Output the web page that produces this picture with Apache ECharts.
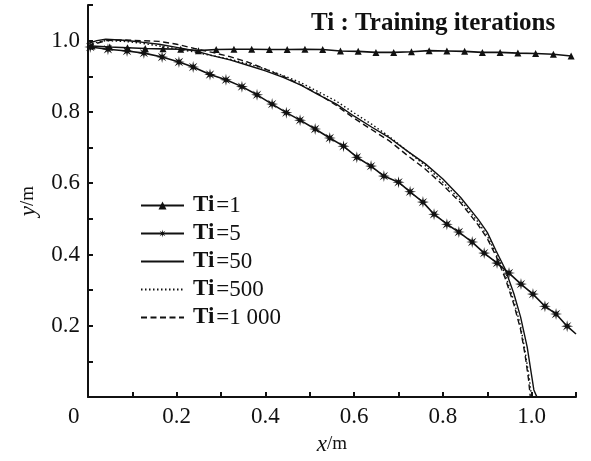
<!DOCTYPE html>
<html>
<head>
<meta charset="utf-8">
<script src="https://cdn.jsdelivr.net/npm/echarts@6/dist/echarts.min.js"></script>
<style>
  html, body { margin: 0; padding: 0; background: #fff; }
  #ec1 { width: 591px; height: 461px; }
</style>
</head>
<body>
<div id="ec1"></div>
<script>
// Ti = 1 (triangles)
var ti1X = [0.009, 0.049, 0.089, 0.129, 0.169, 0.209, 0.249, 0.289, 0.329, 0.369, 0.409, 0.449, 0.489, 0.529,
            0.569, 0.609, 0.649, 0.689, 0.729, 0.769, 0.809, 0.849, 0.889, 0.929, 0.969, 1.009, 1.049, 1.089];
var ti1Y = [0.985, 0.982, 0.980, 0.978, 0.977, 0.976, 0.972, 0.975, 0.976, 0.976, 0.975, 0.975, 0.976, 0.975,
            0.971, 0.970, 0.967, 0.967, 0.969, 0.972, 0.971, 0.970, 0.967, 0.967, 0.965, 0.964, 0.962, 0.957];
// Ti = 5 (stars), last point is the line end without marker
var ti5X = [0.005, 0.045, 0.088, 0.126, 0.167, 0.205, 0.237, 0.275, 0.311, 0.347, 0.381, 0.415, 0.447, 0.478,
            0.512, 0.545, 0.576, 0.606, 0.638, 0.667, 0.700, 0.726, 0.755, 0.780, 0.809, 0.836, 0.866, 0.893,
            0.922, 0.949, 0.976, 1.003, 1.030, 1.055, 1.080, 1.100];
var ti5Y = [0.982, 0.976, 0.971, 0.965, 0.954, 0.940, 0.926, 0.905, 0.890, 0.871, 0.848, 0.822, 0.798, 0.777,
            0.752, 0.727, 0.704, 0.673, 0.648, 0.620, 0.603, 0.576, 0.547, 0.513, 0.485, 0.463, 0.435, 0.404,
            0.376, 0.348, 0.317, 0.289, 0.255, 0.233, 0.199, 0.177];
// Ti = 50 (solid)
var ti50X = [0, 0.02, 0.04, 0.08, 0.12, 0.16, 0.2, 0.24, 0.28, 0.32, 0.36, 0.4, 0.44, 0.48, 0.52, 0.56, 0.6,
             0.64, 0.68, 0.72, 0.76, 0.8, 0.84, 0.88, 0.9, 0.92, 0.94, 0.96, 0.975, 0.99, 1.0, 1.005, 1.012];
var ti50Y = [0.992, 1.0, 1.004, 1.001, 0.996, 0.99, 0.981, 0.972, 0.958, 0.946, 0.931, 0.915, 0.897, 0.875, 0.848,
             0.822, 0.788, 0.757, 0.727, 0.690, 0.655, 0.612, 0.560, 0.498, 0.462, 0.41, 0.36, 0.29, 0.225, 0.14,
             0.06, 0.02, 0];
// Ti = 500 (dotted)
var ti500X = [0, 0.04, 0.08, 0.12, 0.16, 0.2, 0.24, 0.28, 0.32, 0.36, 0.4, 0.44, 0.48, 0.52, 0.56, 0.6, 0.64,
              0.68, 0.72, 0.76, 0.8, 0.84, 0.88, 0.9, 0.92, 0.94, 0.96, 0.975, 0.985, 0.995, 1.0];
var ti500Y = [0.99, 1.0, 0.998, 0.993, 0.985, 0.977, 0.968, 0.958, 0.948, 0.935, 0.92, 0.902, 0.882, 0.856, 0.83,
              0.797, 0.765, 0.73, 0.69, 0.65, 0.603, 0.552, 0.49, 0.452, 0.402, 0.345, 0.27, 0.2, 0.13, 0.05, 0];
// Ti = 1 000 (dashed)
var ti1000X = [0, 0.04, 0.08, 0.12, 0.16, 0.2, 0.24, 0.28, 0.32, 0.36, 0.4, 0.44, 0.48, 0.52, 0.56, 0.6, 0.64,
               0.68, 0.72, 0.76, 0.8, 0.84, 0.88, 0.9, 0.92, 0.94, 0.96, 0.975, 0.985, 0.993, 0.997];
var ti1000Y = [0.985, 1.0, 1.002, 1.0, 0.998, 0.99, 0.978, 0.967, 0.955, 0.94, 0.92, 0.9, 0.876, 0.85, 0.818,
               0.782, 0.75, 0.718, 0.678, 0.64, 0.595, 0.545, 0.482, 0.445, 0.395, 0.335, 0.26, 0.19, 0.12, 0.05, 0];

var names = ['Ti=1', 'Ti=5', 'Ti=50', 'Ti=500', 'Ti=1 000'];

var ink = '#111';
var serif = 'Liberation Serif';
var star = 'path://M10 0L11.34 6.77L17.07 2.93L13.23 8.66L20 10L13.23 11.34L17.07 17.07L11.34 13.23L10 20L8.66 13.23L2.93 17.07L6.77 11.34L0 10L6.77 8.66L2.93 2.93L8.66 6.77Z';

function pairs(xs, ys) {
    return xs.map(function (x, i) { return [x, ys[i]]; });
}

var ti5Data = pairs(ti5X, ti5Y).map(function (p, i) {
    return i === ti5X.length - 1 ? { value: p, symbol: 'none' } : p;
});

function tickLabel(v) {
    var k = Math.round(v * 10);
    return (k > 0 && k % 2 === 0 && k <= 10) ? v.toFixed(1) : '';
}

// plain-line series get no marker in the legend
var legendData = names.map(function (n, i) {
    return i < 2 ? { name: n } : { name: n, itemStyle: { opacity: 0 } };
});

var myChart = echarts.init(document.getElementById('ec1'));

var option = {
    animation: false,
    backgroundColor: '#fff',
    color: [ink, ink, ink, ink, ink],
    title: {
        text: 'Ti : Training iterations',
        left: 306,
        top: 6,
        textStyle: { fontFamily: serif, fontWeight: 'bold', fontSize: 25, color: ink }
    },
    legend: {
        orient: 'vertical',
        left: 140,
        top: 194,
        padding: 0,
        itemWidth: 43,
        itemHeight: 10,
        itemGap: 5,
        data: legendData,
        formatter: function (name) {
            return '{b|Ti}{n|' + name.slice(2) + '}';
        },
        textStyle: {
            color: ink,
            rich: {
                b: { fontFamily: serif, fontWeight: 'bold', fontSize: 23, color: ink, padding: [0, 2, 0, 4], lineHeight: 21 },
                n: { fontFamily: serif, fontSize: 23, color: ink, lineHeight: 21 }
            }
        }
    },
    grid: { left: 88, right: 15, top: 5, bottom: 63 },
    xAxis: {
        type: 'value',
        min: 0,
        max: 1.1,
        interval: 0.1,
        name: '{i|x}{n|/m}',
        nameLocation: 'middle',
        nameGap: 30,
        nameTextStyle: {
            rich: {
                i: { fontFamily: serif, fontStyle: 'italic', fontSize: 23, color: ink },
                n: { fontFamily: serif, fontSize: 19, color: ink }
            }
        },
        splitLine: { show: false },
        axisLine: { lineStyle: { color: ink, width: 2 } },
        axisTick: { inside: true, length: 5, lineStyle: { color: ink, width: 2 } },
        axisLabel: { formatter: tickLabel, margin: 8, fontFamily: serif, fontSize: 23, color: ink }
    },
    yAxis: {
        type: 'value',
        min: 0,
        max: 1.1,
        interval: 0.1,
        name: '{i|y}{n|/m}',
        nameLocation: 'middle',
        nameGap: 48,
        nameTextStyle: {
            rich: {
                i: { fontFamily: serif, fontStyle: 'italic', fontSize: 23, color: ink },
                n: { fontFamily: serif, fontSize: 19, color: ink }
            }
        },
        splitLine: { show: false },
        axisLine: { lineStyle: { color: ink, width: 2 } },
        axisTick: { inside: true, length: 5, lineStyle: { color: ink, width: 2 } },
        axisLabel: { formatter: tickLabel, margin: 8, fontFamily: serif, fontSize: 23, color: ink }
    },
    graphic: [
        {
            type: 'text',
            left: 68,
            top: 405,
            style: { text: '0', fontFamily: serif, fontSize: 23, fill: ink }
        }
    ],
    series: [
        {
            name: names[0],
            type: 'line',
            data: pairs(ti1X, ti1Y),
            symbol: 'triangle',
            symbolSize: 7,
            z: 5,
            itemStyle: { color: ink },
            lineStyle: { color: ink, width: 1.6 }
        },
        {
            name: names[1],
            type: 'line',
            data: ti5Data,
            symbol: star,
            symbolSize: 12,
            z: 5,
            itemStyle: { color: ink },
            lineStyle: { color: ink, width: 1.6 }
        },
        {
            name: names[2],
            type: 'line',
            data: pairs(ti50X, ti50Y),
            symbol: 'none',
            itemStyle: { color: ink },
            lineStyle: { color: ink, width: 1.4 }
        },
        {
            name: names[3],
            type: 'line',
            data: pairs(ti500X, ti500Y),
            symbol: 'none',
            itemStyle: { color: ink },
            lineStyle: { color: ink, width: 1.4, type: [1.5, 2.5] }
        },
        {
            name: names[4],
            type: 'line',
            data: pairs(ti1000X, ti1000Y),
            symbol: 'none',
            itemStyle: { color: ink },
            lineStyle: { color: ink, width: 1.4, type: [6, 3.5] }
        }
    ]
};
myChart.setOption(option);
</script>
</body>
</html>
